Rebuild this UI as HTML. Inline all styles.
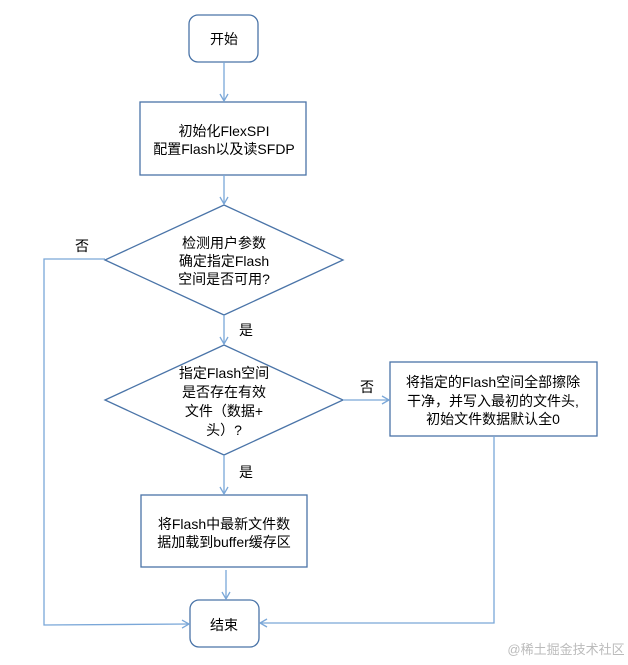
<!DOCTYPE html>
<html><head><meta charset="utf-8"><style>
body{margin:0;background:#fff;width:628px;height:660px;overflow:hidden}
svg text{font-family:"Liberation Sans","Noto Sans CJK SC",sans-serif;font-size:14px;fill:#000}
</style></head><body>
<svg width="628" height="660" viewBox="0 0 628 660" xmlns="http://www.w3.org/2000/svg">
<defs><marker id="a" markerWidth="10" markerHeight="10" refX="8" refY="5" orient="auto" markerUnits="userSpaceOnUse"><path d="M1,1 L8,5 L1,9" fill="none" stroke="#7aa7d8" stroke-width="1.3"/></marker></defs>
<g fill="#fff" stroke="#4a74a8" stroke-width="1.3">
<rect x="189" y="15" width="69" height="47" rx="9"/>
<rect x="140" y="102" width="166" height="73"/>
<polygon points="224,205 343,260 224,315 105,260"/>
<polygon points="224,345 343,400 224,455 105,400"/>
<rect x="390" y="362" width="207" height="74"/>
<rect x="141" y="495" width="166" height="72"/>
<rect x="190" y="600" width="69" height="47" rx="9"/>
</g>
<g stroke="#7aa7d8" stroke-width="1.3" fill="none">
<line x1="224" y1="62" x2="224" y2="101" marker-end="url(#a)"/>
<line x1="224" y1="175" x2="224" y2="204" marker-end="url(#a)"/>
<line x1="224" y1="315" x2="224" y2="344" marker-end="url(#a)"/>
<line x1="224" y1="455" x2="224" y2="494" marker-end="url(#a)"/>
<line x1="226" y1="570" x2="226" y2="599" marker-end="url(#a)"/>
<line x1="343" y1="400" x2="389" y2="400" marker-end="url(#a)"/>
<polyline points="105,259 44,259 44,625 189,624" marker-end="url(#a)"/>
<polyline points="494,436 494,623 260,623" marker-end="url(#a)"/>
</g>
<g text-anchor="middle">
<text x="224" y="44">开始</text>
<text x="224" y="136">初始化FlexSPI</text>
<text x="224" y="154">配置Flash以及读SFDP</text>
<text x="224" y="248">检测用户参数</text>
<text x="224" y="266">确定指定Flash</text>
<text x="224" y="284">空间是否可用?</text>
<text x="224" y="378">指定Flash空间</text>
<text x="224" y="397">是否存在有效</text>
<text x="224" y="416">文件（数据+</text>
<text x="224" y="435">头）?</text>
<text x="493" y="387">将指定的Flash空间全部擦除</text>
<text x="493" y="406">干净，并写入最初的文件头,</text>
<text x="493" y="424">初始文件数据默认全0</text>
<text x="224" y="529">将Flash中最新文件数</text>
<text x="224" y="547">据加载到buffer缓存区</text>
<text x="224" y="630">结束</text>
<text x="82" y="251">否</text>
<text x="246" y="335">是</text>
<text x="367" y="392">否</text>
<text x="246" y="477">是</text>
<text x="566" y="654" style="font-size:13px;fill:#bbb">@稀土掘金技术社区</text>
</g>
</svg>
</body></html>
